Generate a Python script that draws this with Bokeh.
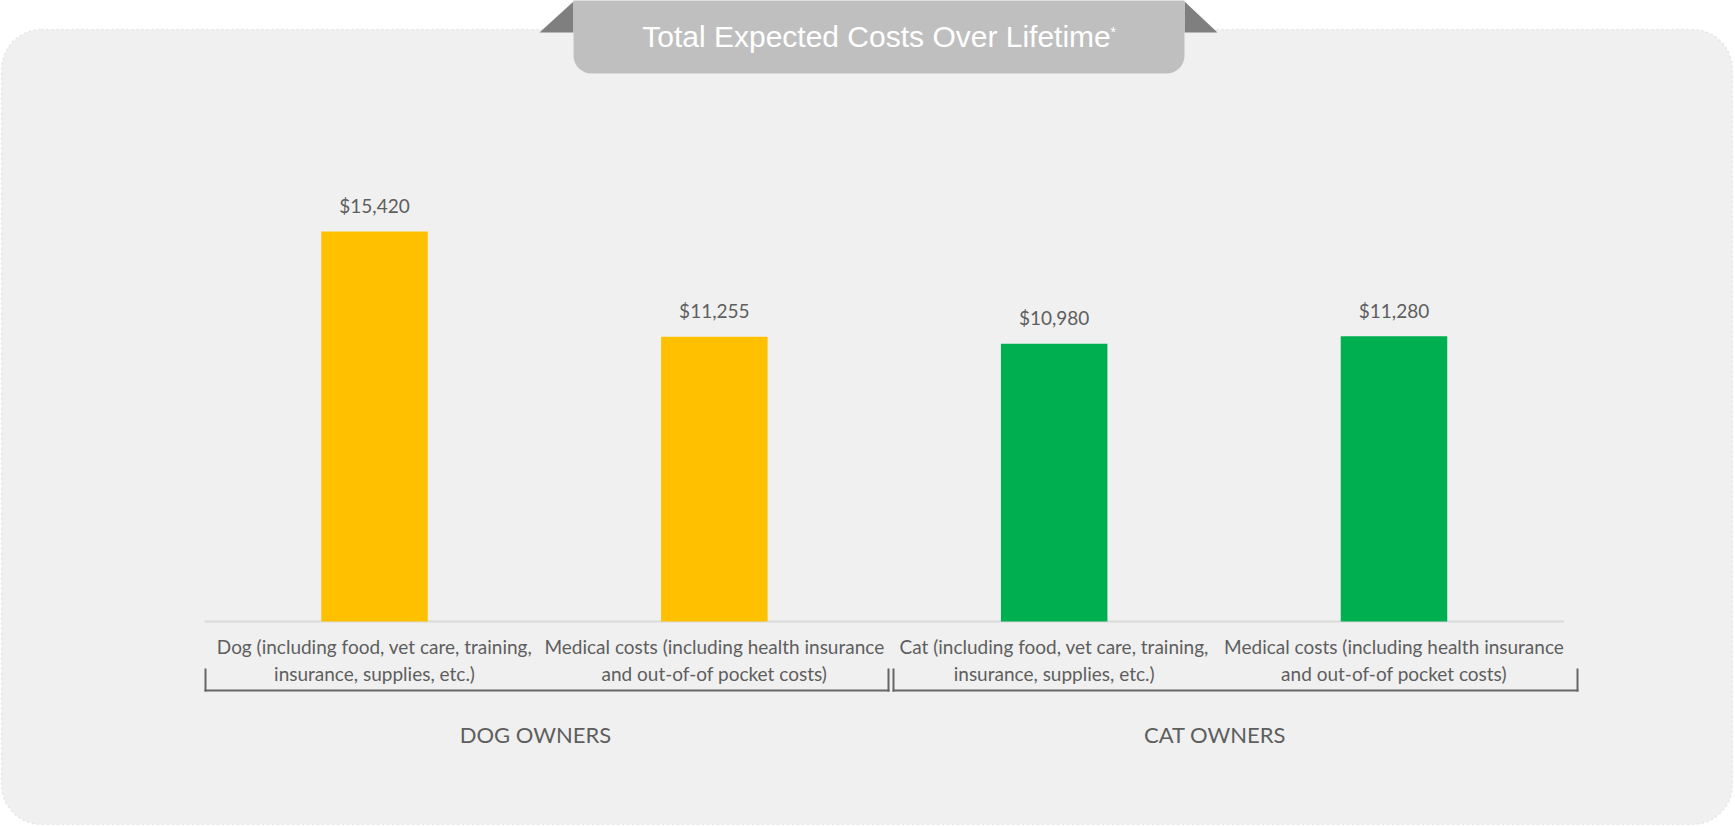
from bokeh.plotting import figure
from bokeh.models import ColumnDataSource, Range1d, BoxAnnotation, PolyAnnotation, Label
from bokeh.core.properties import value
from bokeh.embed import file_html
from bokeh.resources import INLINE

# ---------------- data ----------------
label_line1 = [
    "Dog (including food, vet care, training,",
    "Medical costs (including health insurance",
    "Cat (including food, vet care, training,",
    "Medical costs (including health insurance",
]
label_line2 = [
    "insurance, supplies, etc.)",
    "and out-of-of pocket costs)",
    "insurance, supplies, etc.)",
    "and out-of-of pocket costs)",
]
costs = [15420, 11255, 10980, 11280]
bar_colors = ["#FFC000", "#FFC000", "#00B050", "#00B050"]
groups = ["DOG OWNERS", "CAT OWNERS"]
group_members = [[0, 1], [2, 3]]
title_text = "Total Expected Costs Over Lifetime"

# ---------------- figure ----------------
W, H = 1733, 825
TEXT = "#5E5E5E"

p = figure(width=W, height=H, output_backend="svg", toolbar_location=None, tools="",
           x_range=Range1d(-1.1006, 3.9991), y_range=Range1d(-8066, 24553),
           min_border=0, x_axis_location=None, y_axis_location=None)
p.grid.visible = False
p.outline_line_color = None
p.background_fill_color = "white"
p.border_fill_color = "white"

def sy(y_top):
    return H - y_top

def box(l, r, t, b, **kw):
    return BoxAnnotation(left=l, right=r, top=sy(t), bottom=sy(b),
                         left_units="screen", right_units="screen",
                         top_units="screen", bottom_units="screen", **kw)

# rounded dotted panel
p.add_layout(box(1, W - 1, 29, H - 1,
                 fill_color="#F0F0F0", fill_alpha=1.0,
                 line_color="#BFBFBF", line_width=1.6, line_dash="2 3",
                 border_radius=40, level="underlay"))

xs = list(range(len(costs)))
src = ColumnDataSource(dict(
    x=xs, top=costs, color=bar_colors,
    lab=["${:,}".format(v) for v in costs],
    l1=label_line1, l2=label_line2, zero=[0] * len(costs),
))

# baseline (category axis line)
p.segment(x0=[-0.5], y0=[0], x1=[len(costs) - 0.5], y1=[0],
          line_color="#D9D9D9", line_width=2)

p.vbar(x="x", top="top", bottom=0, width=0.3134, color="color", source=src,
       line_color=None)

p.text(x="x", y="top", text="lab", source=src, text_font=value("Lato"),
       text_font_size="19px", text_color=TEXT, text_align="center",
       text_baseline="alphabetic", y_offset=-26)

p.text(x="x", y="zero", text="l1", source=src, text_font=value("Lato"),
       text_font_size="19px", text_color=TEXT, text_align="center",
       text_baseline="alphabetic", y_offset=25)
p.text(x="x", y="zero", text="l2", source=src, text_font=value("Lato"),
       text_font_size="19px", text_color=TEXT, text_align="center",
       text_baseline="alphabetic", y_offset=52)

gsrc = ColumnDataSource(dict(
    x=[sum(m) / len(m) for m in group_members],
    y=[0] * len(groups), t=groups))
p.text(x="x", y="y", text="t", source=gsrc, text_font=value("Lato"),
       text_font_size="22px", text_color=TEXT, text_align="center",
       text_baseline="alphabetic", y_offset=113, x_offset=-9)

# group brackets
BR = "#666666"
for (l, r) in [(205, 888), (893, 1577)]:
    p.add_layout(box(l - 1, r + 1, 689, 691, fill_color=BR, fill_alpha=1.0, line_color=None))
    p.add_layout(box(l - 1, l + 1, 668, 691, fill_color=BR, fill_alpha=1.0, line_color=None))
    p.add_layout(box(r - 1, r + 1, 668, 691, fill_color=BR, fill_alpha=1.0, line_color=None))

# title banner
p.add_layout(PolyAnnotation(xs=[539, 573, 573], ys=[sy(32), sy(32), sy(1)],
                            xs_units="screen", ys_units="screen",
                            fill_color="#7F7F7F", fill_alpha=1.0, line_color=None))
p.add_layout(PolyAnnotation(xs=[1184, 1184, 1217], ys=[sy(1), sy(32), sy(32)],
                            xs_units="screen", ys_units="screen",
                            fill_color="#7F7F7F", fill_alpha=1.0, line_color=None))
p.add_layout(box(573, 1184, -20, 73, fill_color="#BFBFBF", fill_alpha=1.0, line_color=None,
                 border_radius=dict(top_left=0, top_right=0,
                                    bottom_right=18, bottom_left=18)))
p.add_layout(Label(text=title_text, x=876, y=sy(36), x_units="screen", y_units="screen",
                   text_font="Liberation Sans", text_font_size="30px",
                   text_color="white", text_align="center", text_baseline="alphabetic"))
p.add_layout(Label(text="*", x=1110, y=sy(31), x_units="screen", y_units="screen",
                   text_font="Liberation Sans", text_font_size="14px",
                   text_color="white", text_align="left", text_baseline="alphabetic"))

open("out.html", "w").write(file_html(p, INLINE))
